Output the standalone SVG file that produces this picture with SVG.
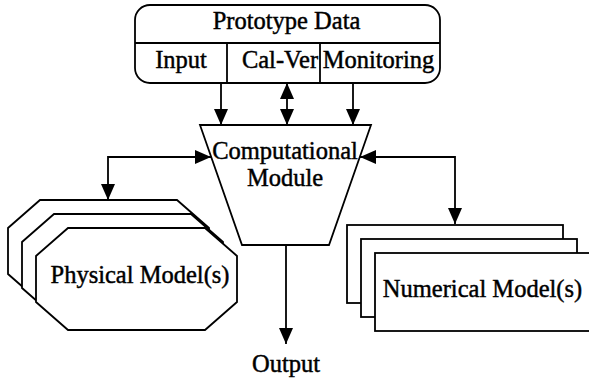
<svg xmlns="http://www.w3.org/2000/svg" width="589" height="378" viewBox="0 0 589 378">
  <style>
    .shape { fill: #fff; stroke: #000; stroke-width: 1.8; }
    .line { fill: none; stroke: #000; stroke-width: 1.8; }
    .lbl { font-family: "Liberation Serif", "Times New Roman", serif; font-size: 24.5px; fill: #000; stroke: #000; stroke-width: 0.45; text-anchor: middle; }
    .wire { fill: none; stroke: #000; stroke-width: 1.8; marker-end: url(#arrow); }
    .wire2 { fill: none; stroke: #000; stroke-width: 1.8; marker-start: url(#arrow); marker-end: url(#arrow); }
  </style>
  <defs>
    <marker id="arrow" markerUnits="userSpaceOnUse" markerWidth="17" markerHeight="14" refX="16" refY="7" orient="auto-start-reverse">
      <path d="M0,0 L16,7 L0,14 z" fill="#000"/>
    </marker>
    <polygon id="octa" points="68,228 205,228 237,256 237,302 205,330 68,330 36,302 36,256"/>
    <rect id="card" x="375" y="253" width="216" height="78"/>
  </defs>

  <rect width="589" height="378" fill="#fff"/>

  <!-- data source with three channels -->
  <g id="prototype-data">
    <rect class="shape" x="135" y="5" width="305" height="78" rx="15" ry="15"/>
    <line class="line" x1="135" y1="43" x2="440" y2="43"/>
    <line class="line" x1="227" y1="43" x2="227" y2="83"/>
    <line class="line" x1="320" y1="43" x2="320" y2="83"/>
    <text class="lbl" x="286.5" y="29">Prototype Data</text>
    <text class="lbl" x="181" y="68">Input</text>
    <text class="lbl" x="280" y="68">Cal-Ver</text>
    <text class="lbl" x="378.5" y="68">Monitoring</text>
  </g>

  <!-- central processing block -->
  <g id="computational-module">
    <polygon class="shape" points="200,125 371,125 329,245 242,245"/>
    <text class="lbl" x="285" y="159">Computational</text>
    <text class="lbl" x="285" y="186">Module</text>
  </g>

  <!-- stacked physical models -->
  <g id="physical-models">
    <use href="#octa" class="shape" transform="translate(-28,-28)"/>
    <use href="#octa" class="shape" transform="translate(-14,-14)"/>
    <use href="#octa" class="shape"/>
    <text class="lbl" x="140" y="283">Physical Model(s)</text>
  </g>

  <!-- stacked numerical models -->
  <g id="numerical-models">
    <use href="#card" class="shape" transform="translate(-28,-28)"/>
    <use href="#card" class="shape" transform="translate(-14,-14)"/>
    <use href="#card" class="shape"/>
    <text class="lbl" x="482.5" y="297">Numerical Model(s)</text>
  </g>

  <g id="output">
    <text class="lbl" x="286" y="372">Output</text>
  </g>

  <g id="connectors">
    <line class="wire" x1="221" y1="83" x2="221" y2="125"/>
    <line class="wire2" x1="287" y1="83" x2="287" y2="125"/>
    <line class="wire" x1="353" y1="83" x2="353" y2="125"/>
    <path class="wire2" d="M108,200 V157 H211"/>
    <path class="wire2" d="M360,157 H455 V224"/>
    <line class="wire" x1="286" y1="245" x2="286" y2="344"/>
  </g>
</svg>
